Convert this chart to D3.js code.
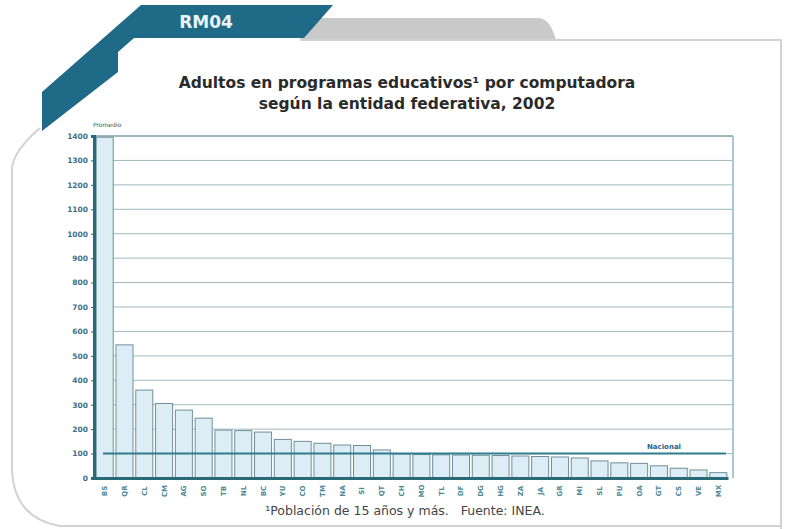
<!DOCTYPE html>
<html><head><meta charset="utf-8">
<script src="https://cdn.jsdelivr.net/npm/d3@7"></script>
<style>body{margin:0;background:#fff}svg{display:block}</style>
</head><body>
<script>
const states = ["BS","QR","CL","CM","AG","SO","TB","NL","BC","YU","CO","TM","NA","SI","QT","CH","MO","TL","DF","DG","HG","ZA","JA","GR","MI","SL","PU","OA","GT","CS","VE","MX"];
const values = [1395,545,360,305,278,245,196,194,188,158,150,142,135,133,115,98,96,95,94,93,92,90,88,86,82,70,62,60,50,40,33,22];
const yTicks = [0,100,200,300,400,500,600,700,800,900,1000,1100,1200,1300,1400];
const nationalAvg = 100;
const titleLines = ["Adultos en programas educativos¹ por computadora","según la entidad federativa, 2002"];
const footnote = "¹Población de 15 años y más.   Fuente: INEA.";

const W=786,H=529;
const svg=d3.select("body").append("svg").attr("width",W).attr("height",H);
const teal="#1f6a86";

// frame decoration
svg.append("path").attr("d","M300,18 L538,18 Q550,18 556,40 L300,40 Z").attr("fill","#c9c9c9");
svg.append("path").attr("d","M300,40 L781,40 L781,529 M60,526 L781,526 M40,128 Q14,150 12,168 L12,470 Q14,518 60,526")
  .attr("fill","none").attr("stroke","#d2d2d2").attr("stroke-width",2);
svg.append("path").attr("d","M141,5 L333,5 L304,38 L134,38 L118,52 L118,72 L42,131 L42,92 Z").attr("fill",teal);
svg.append("text").attr("x",206).attr("y",28).attr("text-anchor","middle").attr("fill","#e8f4f8")
  .attr("font-family","DejaVu Sans").attr("font-weight","bold").attr("font-size",17).text("RM04");

svg.append("g").selectAll("text").data(titleLines).join("text")
  .attr("x",407).attr("y",(d,i)=>88+i*21).attr("text-anchor","middle")
  .attr("font-family","DejaVu Sans").attr("font-weight","bold").attr("font-size",15.5).attr("fill","#2b2b2b").text(d=>d);

const x=d3.scaleBand().domain(states).range([95,728]).paddingInner(0.14).paddingOuter(0.06);
const y=d3.scaleLinear().domain([0,1400]).range([478,136]);

// grid
svg.append("g").selectAll("line").data(yTicks.filter(t=>t>0&&t<1400)).join("line")
  .attr("x1",95).attr("x2",732).attr("y1",d=>y(d)).attr("y2",d=>y(d))
  .attr("stroke","#9fb9bd").attr("stroke-width",1);
svg.append("line").attr("x1",95).attr("x2",733).attr("y1",y(1400)).attr("y2",y(1400)).attr("stroke","#7f9fa8").attr("stroke-width",1.5);
svg.append("line").attr("x1",733).attr("x2",733).attr("y1",y(1400)).attr("y2",y(0)).attr("stroke","#8fb3c3").attr("stroke-width",1.5);

// bars
svg.append("g").selectAll("rect").data(values).join("rect")
  .attr("x",(d,i)=>x(states[i])).attr("width",x.bandwidth())
  .attr("y",d=>y(d)).attr("height",d=>y(0)-y(d))
  .attr("fill","#ddedf5").attr("stroke","#6f8f9c").attr("stroke-width",1);

// national line
svg.append("line").attr("x1",103).attr("x2",726).attr("y1",y(nationalAvg)).attr("y2",y(nationalAvg))
  .attr("stroke","#2e7c8e").attr("stroke-width",2);
svg.append("text").attr("x",664).attr("y",y(nationalAvg)-5).attr("text-anchor","middle")
  .attr("font-family","DejaVu Sans").attr("font-weight","bold").attr("font-size",7).attr("fill","#2b5f8a").text("Nacional");
svg.append("text").attr("x",93).attr("y",127)
  .attr("font-family","DejaVu Sans").attr("font-size",6).attr("fill","#2b5f6a").text("Promedio");

// axes
const ya=svg.append("g").attr("transform","translate(94,0)").call(d3.axisLeft(y).tickValues(yTicks).tickSize(3).tickFormat(d3.format("d")));
ya.select(".domain").attr("stroke","#2a6a78").attr("stroke-width",3);
ya.selectAll(".tick line").attr("stroke","#2a6a78");
ya.selectAll("text").attr("font-family","DejaVu Sans").attr("font-weight","bold").attr("font-size",7.5).attr("fill","#3a7088");

const xa=svg.append("g").attr("transform","translate(0,478)").call(d3.axisBottom(x).tickSize(0).tickSizeOuter(0));
xa.select(".domain").attr("stroke","#2a6a78").attr("stroke-width",3);
xa.selectAll(".tick text").attr("font-family","DejaVu Sans").attr("font-weight","bold").attr("font-size",7).attr("fill","#4a8a96")
  .attr("transform","rotate(-90)").attr("x",-13).attr("y",0).attr("dy","0.35em").attr("text-anchor","middle");

svg.append("text").attr("x",405).attr("y",515).attr("text-anchor","middle")
  .attr("font-family","DejaVu Sans").attr("font-size",12.5).attr("fill","#444").style("white-space","pre").text(footnote);
</script>
</body></html>
